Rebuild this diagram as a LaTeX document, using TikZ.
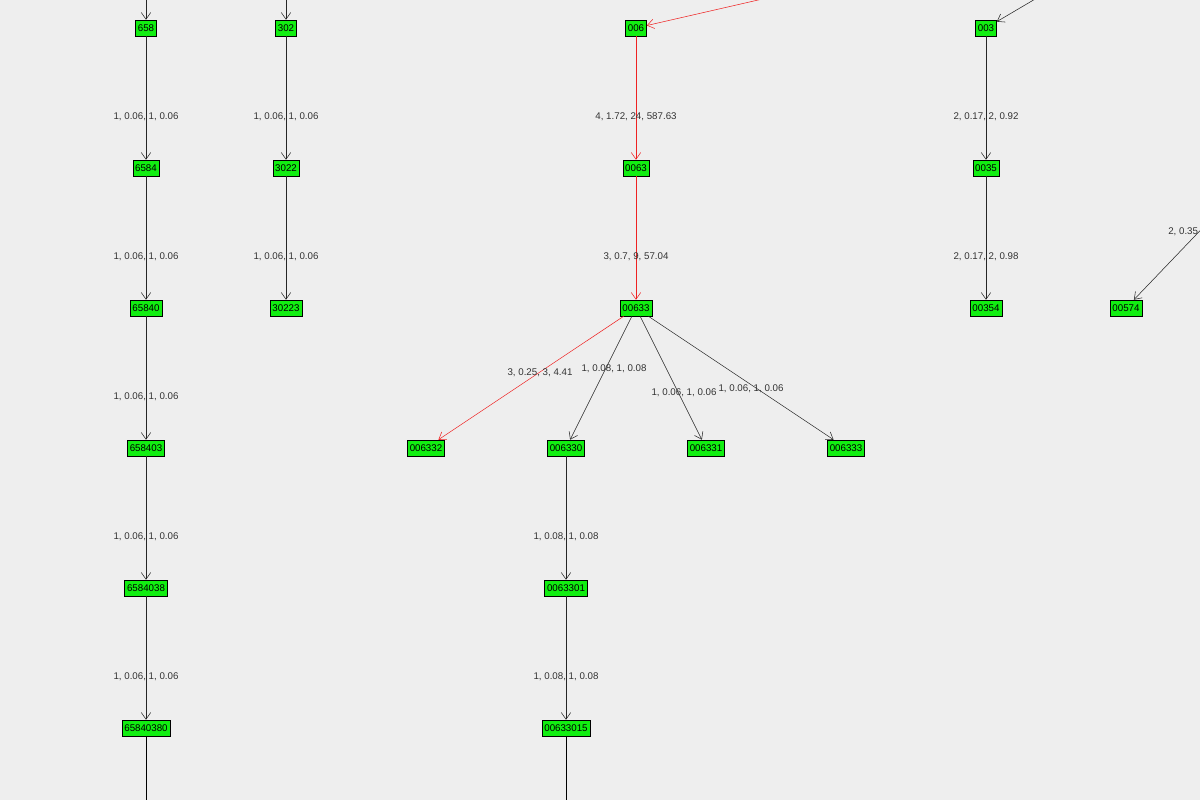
\documentclass[tikz,border=0pt]{standalone}
\usepackage{fontspec}
\setmainfont{Liberation Sans}
\usetikzlibrary{arrows.meta}
\definecolor{bgrey}{HTML}{EEEEEE}
\definecolor{vgreen}{HTML}{11EE11}
\definecolor{pathred}{HTML}{EE2222}
\tikzset{
  vert/.style={draw=black,fill=vgreen,inner xsep=1.8pt,inner ysep=1pt,minimum height=12pt,font=\fontsize{7.3}{8}\selectfont},
  edge/.style={draw=black!85,-{Straight Barb[length=5pt,width=7pt]}},
  hot/.style={edge,draw=pathred},
  elabel/.style={font=\fontsize{7.3}{8}\selectfont,text=black!80,inner sep=0pt}
}
\begin{document}
\begin{tikzpicture}[x=0.75pt,y=-0.75pt]
        \fill [bgrey] (0,0) rectangle (1200,800);
        \useasboundingbox (0,0) rectangle (1200,800);
        \clip (0,0) rectangle (1200,800);
        % first column
        \node[vert] (v658) at (146,28) {658};
        \node[vert] (v6584) at (146,168) {6584};
        \node[vert] (v65840) at (146,308) {65840};
        \node[vert] (v658403) at (146,448) {658403};
        \node[vert] (v6584038) at (146,588) {6584038};
        \node[vert] (v65840380) at (146,728) {65840380};
        \coordinate (in658) at (146,-5);
        \coordinate (out65840380) at (146,805);
        \draw[edge] (in658) -- (v658);
        \draw[edge] (v658) -- node[elabel,pos=0.65]{1, 0.06, 1, 0.06} (v6584);
        \draw[edge] (v6584) -- node[elabel,pos=0.65]{1, 0.06, 1, 0.06} (v65840);
        \draw[edge] (v65840) -- node[elabel,pos=0.65]{1, 0.06, 1, 0.06} (v658403);
        \draw[edge] (v658403) -- node[elabel,pos=0.65]{1, 0.06, 1, 0.06} (v6584038);
        \draw[edge] (v6584038) -- node[elabel,pos=0.65]{1, 0.06, 1, 0.06} (v65840380);
        \draw (v65840380) -- (out65840380);
        % second column
        \node[vert] (v302) at (286,28) {302};
        \node[vert] (v3022) at (286,168) {3022};
        \node[vert] (v30223) at (286,308) {30223};
        \coordinate (in302) at (286,-5);
        \draw[edge] (in302) -- (v302);
        \draw[edge] (v302) -- node[elabel,pos=0.65]{1, 0.06, 1, 0.06} (v3022);
        \draw[edge] (v3022) -- node[elabel,pos=0.65]{1, 0.06, 1, 0.06} (v30223);
        % middle tree
        \node[vert] (v006) at (636,28) {006};
        \node[vert] (v0063) at (636,168) {0063};
        \node[vert] (v00633) at (636,308) {00633};
        \node[vert] (v006332) at (426,448) {006332};
        \node[vert] (v006330) at (566,448) {006330};
        \node[vert] (v006331) at (706,448) {006331};
        \node[vert] (v006333) at (846,448) {006333};
        \node[vert] (v0063301) at (566,588) {0063301};
        \node[vert] (v00633015) at (566,728) {00633015};
        \coordinate (in006) at (780,-5);
        \coordinate (out00633015) at (566,805);
        \draw[hot] (in006) -- (v006);
        \draw[hot] (v006) -- node[elabel,pos=0.65]{4, 1.72, 24, 587.63} (v0063);
        \draw[hot] (v0063) -- node[elabel,pos=0.65]{3, 0.7, 9, 57.04} (v00633);
        \draw[hot] (v00633) -- (v006332);
        \draw[edge] (v00633) -- (v006330);
        \draw[edge] (v00633) -- (v006331);
        \draw[edge] (v00633) -- (v006333);
        \node[elabel] (l006332) at (540,373) {3, 0.25, 3, 4.41};
        \node[elabel] (l006330) at (614,369) {1, 0.08, 1, 0.08};
        \node[elabel] (l006331) at (684,393) {1, 0.06, 1, 0.06};
        \node[elabel] (l006333) at (751,389) {1, 0.06, 1, 0.06};
        \draw[edge] (v006330) -- node[elabel,pos=0.65]{1, 0.08, 1, 0.08} (v0063301);
        \draw[edge] (v0063301) -- node[elabel,pos=0.65]{1, 0.08, 1, 0.08} (v00633015);
        \draw (v00633015) -- (out00633015);
        % right column
        \node[vert] (v003) at (986,28) {003};
        \node[vert] (v0035) at (986,168) {0035};
        \node[vert] (v00354) at (986,308) {00354};
        \coordinate (in003) at (1042,-5);
        \draw[edge] (in003) -- (v003);
        \draw[edge] (v003) -- node[elabel,pos=0.65]{2, 0.17, 2, 0.92} (v0035);
        \draw[edge] (v0035) -- node[elabel,pos=0.65]{2, 0.17, 2, 0.98} (v00354);
        \node[vert] (v00574) at (1126,308) {00574};
        \coordinate (in00574) at (1215,215);
        \draw[edge] (in00574) -- (v00574);
        \node[elabel,anchor=west] (l00574) at (1168,232) {2, 0.35};
\end{tikzpicture}
\end{document}
